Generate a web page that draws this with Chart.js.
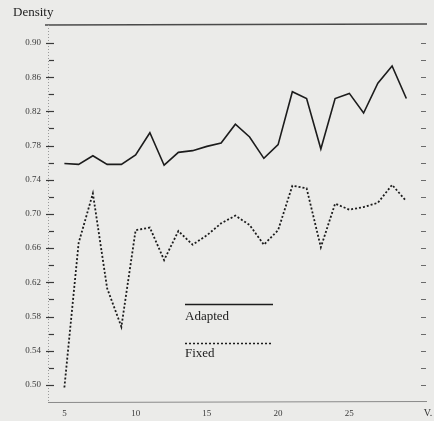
<!DOCTYPE html>
<html>
<head>
<meta charset="utf-8">
<script src="https://cdn.jsdelivr.net/npm/chart.js@4/dist/chart.umd.min.js"></script>
<style>
  html, body { margin: 0; padding: 0; background: #ebebe9; }
  #c { display: block; }
</style>
</head>
<body>
<canvas id="c" width="434" height="421"></canvas>
<script>
// Number of vehicles V on the x axis, density of each strategy on the y axis
const vValues = [5, 6, 7, 8, 9, 10, 11, 12, 13, 14, 15, 16, 17, 18, 19, 20, 21, 22, 23, 24, 25, 26, 27, 28, 29];
const adapted = [0.759, 0.758, 0.768, 0.758, 0.758, 0.769, 0.795, 0.757, 0.772, 0.774, 0.779, 0.783, 0.805, 0.790, 0.765, 0.781, 0.843, 0.835, 0.776, 0.835, 0.841, 0.818, 0.853, 0.873, 0.835];
const fixed   = [0.497, 0.666, 0.724, 0.613, 0.568, 0.681, 0.684, 0.646, 0.680, 0.664, 0.675, 0.689, 0.698, 0.687, 0.664, 0.681, 0.733, 0.730, 0.661, 0.712, 0.705, 0.708, 0.713, 0.734, 0.715];
const yTickLabels = ['0.50', '0.54', '0.58', '0.62', '0.66', '0.70', '0.74', '0.78', '0.82', '0.86', '0.90'];
const yMinorTicks = [0.52, 0.56, 0.60, 0.64, 0.68, 0.72, 0.76, 0.80, 0.84, 0.88];
const xTickLabels = ['5', '10', '15', '20', '25'];
const seriesNames = ['Adapted', 'Fixed'];

const SERIF = '"Liberation Serif", "DejaVu Serif", serif';
const INK = '#1c1c1c';

const toPoints = ys => vValues.map((v, i) => ({ x: v, y: ys[i] }));

// Paper, frame, tick marks, axis captions and the in-plot key
const decor = {
  id: 'decor',
  beforeDraw(chart) {
    const ctx = chart.ctx;
    ctx.save();
    ctx.fillStyle = '#ebebe9';
    ctx.fillRect(0, 0, chart.width, chart.height);
    ctx.restore();
  },
  beforeDatasetsDraw(chart) {
    const { ctx, chartArea: a, scales } = chart;
    const ys = scales.y;
    ctx.save();
    // top rule
    ctx.strokeStyle = '#4a4a4a';
    ctx.lineWidth = 1.4;
    ctx.beginPath();
    ctx.moveTo(a.left - 3, a.top);
    ctx.lineTo(a.right, a.top - 1);
    ctx.stroke();
    // bottom rule
    ctx.strokeStyle = '#8a8a8a';
    ctx.lineWidth = 1;
    ctx.beginPath();
    ctx.moveTo(a.left, a.bottom + 0.5);
    ctx.lineTo(a.right, a.bottom - 0.5);
    ctx.stroke();
    // left axis (faint dotted)
    ctx.strokeStyle = '#9a9a9a';
    ctx.setLineDash([1, 2]);
    ctx.beginPath();
    ctx.moveTo(a.left + 0.5, a.top);
    ctx.lineTo(a.left + 0.5, a.bottom);
    ctx.stroke();
    ctx.setLineDash([]);
    // left ticks
    ctx.strokeStyle = '#3a3a3a';
    ctx.lineWidth = 1.2;
    yTickLabels.forEach(s => {
      const y = Math.round(ys.getPixelForValue(parseFloat(s))) + 0.5;
      ctx.beginPath(); ctx.moveTo(a.left - 2, y); ctx.lineTo(a.left + 6, y); ctx.stroke();
    });
    yMinorTicks.forEach(v => {
      const y = Math.round(ys.getPixelForValue(v)) + 0.5;
      ctx.beginPath(); ctx.moveTo(a.left + 1, y); ctx.lineTo(a.left + 6, y); ctx.stroke();
    });
    // right ticks
    ctx.strokeStyle = '#6a6a6a';
    ctx.lineWidth = 1;
    yTickLabels.map(parseFloat).concat(yMinorTicks).forEach(v => {
      const y = Math.round(ys.getPixelForValue(v)) + 0.5;
      ctx.beginPath(); ctx.moveTo(a.right - 6, y); ctx.lineTo(a.right - 1, y); ctx.stroke();
    });
    ctx.restore();
  },
  afterDraw(chart) {
    const { ctx, chartArea: a } = chart;
    ctx.save();
    ctx.fillStyle = INK;
    ctx.textBaseline = 'middle';
    ctx.font = '13px ' + SERIF;
    ctx.textAlign = 'left';
    ctx.fillText('Density', 13, 13);
    ctx.font = '10px ' + SERIF;
    ctx.fillStyle = '#333';
    ctx.textAlign = 'center';
    ctx.fillText('V.', a.right + 1, 413);

    // key: line sample above each name
    const kx0 = 185, kx1 = 273;
    ctx.strokeStyle = INK;
    ctx.lineWidth = 1.6;
    ctx.beginPath(); ctx.moveTo(kx0, 304.5); ctx.lineTo(kx1, 304.5); ctx.stroke();
    ctx.lineWidth = 1.5;
    ctx.setLineDash([2, 2]);
    ctx.beginPath(); ctx.moveTo(kx0, 343.5); ctx.lineTo(kx1, 343.5); ctx.stroke();
    ctx.setLineDash([]);
    ctx.fillStyle = INK;
    ctx.font = '13px ' + SERIF;
    ctx.textAlign = 'left';
    ctx.fillText(seriesNames[0], kx0, 317);
    ctx.fillText(seriesNames[1], kx0, 354);
    ctx.restore();
  }
};

new Chart(document.getElementById('c'), {
  type: 'line',
  data: {
    datasets: [
      {
        label: seriesNames[0],
        data: toPoints(adapted),
        borderColor: INK,
        borderWidth: 1.6,
        pointRadius: 0,
        tension: 0,
        fill: false
      },
      {
        label: seriesNames[1],
        data: toPoints(fixed),
        borderColor: INK,
        borderWidth: 1.8,
        borderDash: [2, 2],
        pointRadius: 0,
        tension: 0,
        fill: false
      }
    ]
  },
  options: {
    responsive: false,
    animation: false,
    devicePixelRatio: 1,
    layout: { padding: { top: 25, right: 7, left: 0, bottom: 0 } },
    plugins: { legend: { display: false }, tooltip: { enabled: false } },
    scales: {
      x: {
        type: 'linear',
        min: 3.85,
        max: 30.45,
        grid: { display: false, drawTicks: false },
        border: { display: false },
        afterBuildTicks: s => { s.ticks = xTickLabels.map(t => ({ value: parseFloat(t) })); },
        afterFit: s => { s.height = 19; },
        ticks: {
          autoSkip: false,
          maxRotation: 0,
          padding: 6,
          color: '#3a3a3a',
          font: { family: SERIF, size: 9 },
          callback: v => String(v)
        }
      },
      y: {
        type: 'linear',
        min: 0.48,
        max: 0.921,
        grid: { display: false, drawTicks: false },
        border: { display: false },
        afterBuildTicks: s => { s.ticks = yTickLabels.map(t => ({ value: parseFloat(t) })); },
        afterFit: s => { s.width = 48; },
        ticks: {
          autoSkip: false,
          padding: 7,
          color: '#3a3a3a',
          font: { family: SERIF, size: 9 },
          callback: v => v.toFixed(2)
        }
      }
    }
  },
  plugins: [decor]
});
</script>
</body>
</html>
